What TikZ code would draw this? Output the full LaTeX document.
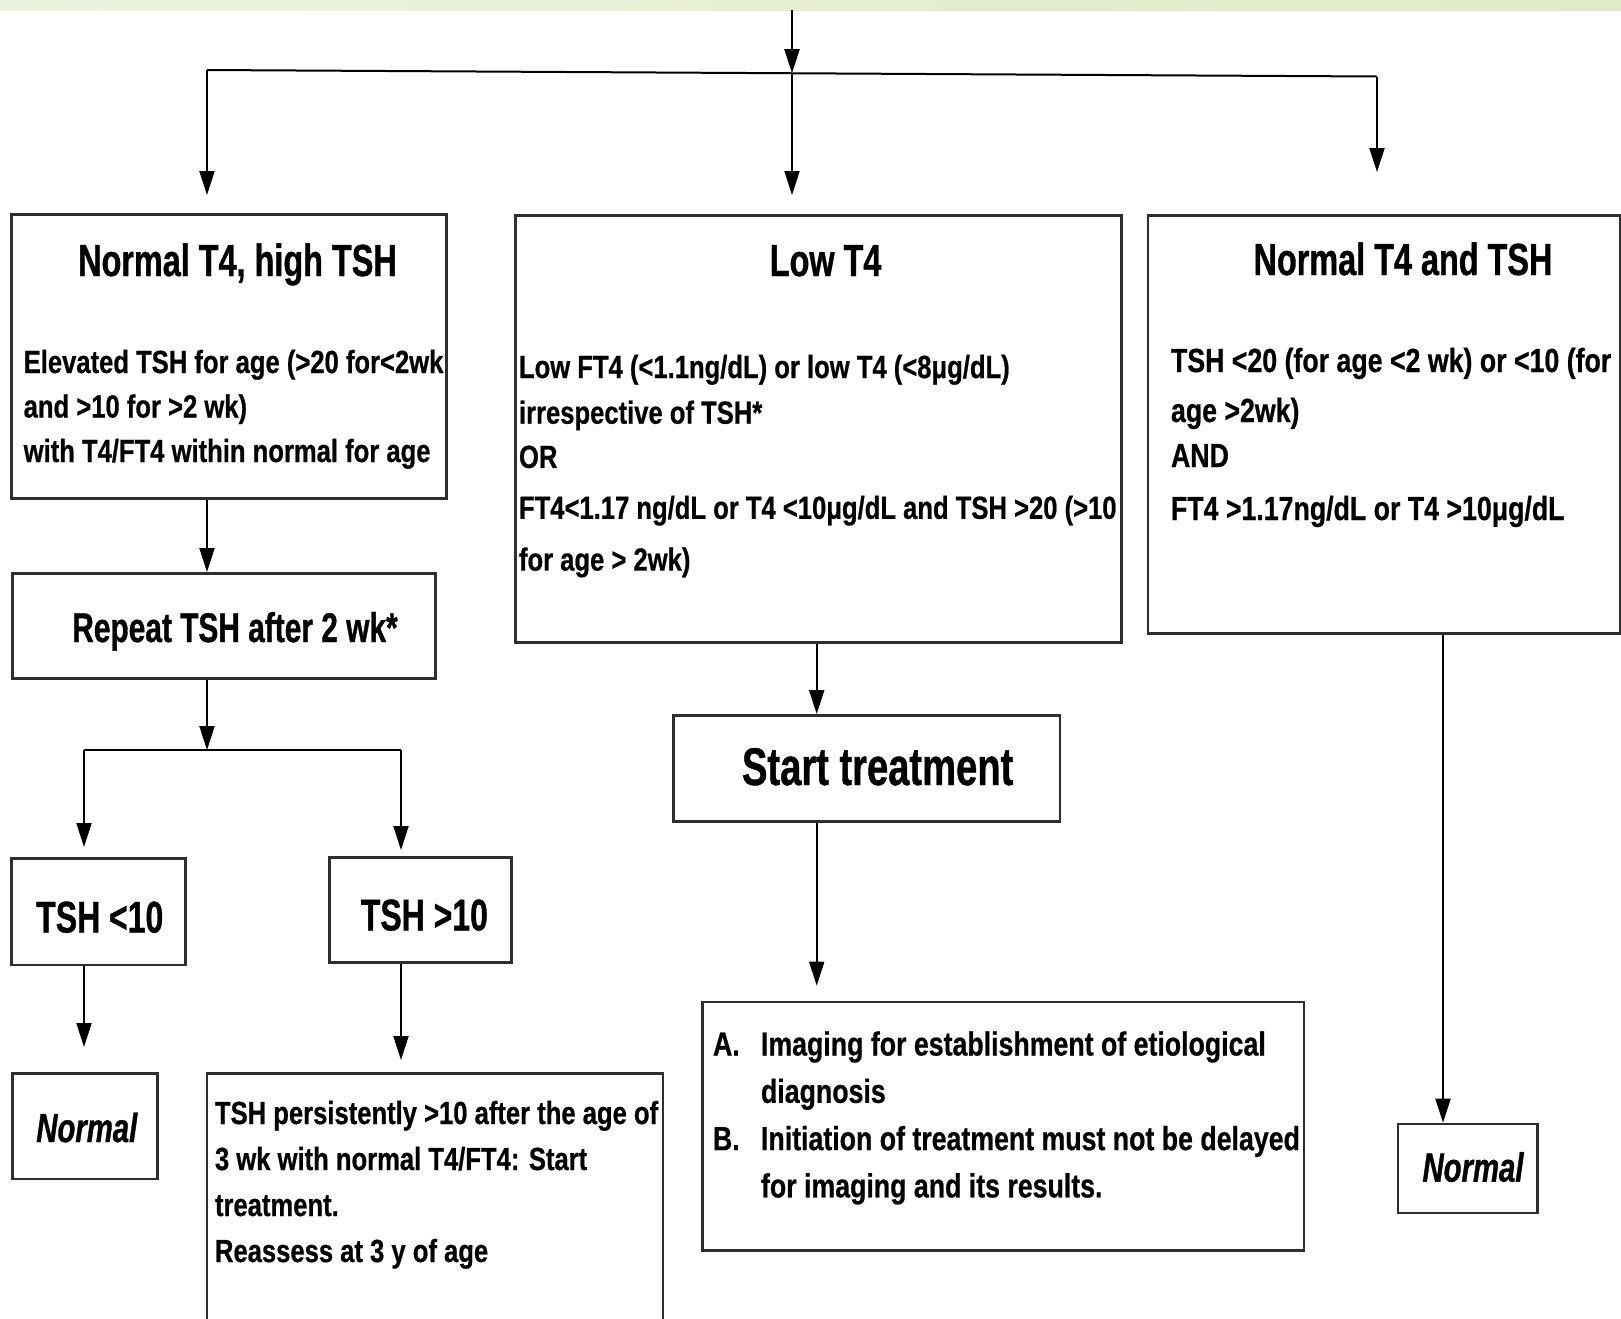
\documentclass[tikz,border=0pt]{standalone}
\usepackage{fontspec}
\usetikzlibrary{arrows.meta}
\newfontfamily\bodyfont[FakeStretch=0.80,FakeBold=0.6]{Liberation Sans}
\newfontfamily\headfont[FakeStretch=0.72,FakeBold=0.8]{Liberation Sans}
\newcommand\tstrut{\rule{0pt}{30pt}}
\definecolor{boxgray}{HTML}{2E2E2E}
\definecolor{bandL}{HTML}{EDF2DE}
\definecolor{bandR}{HTML}{E0EAC8}
\tikzset{
  box/.style={draw=boxgray,line width=2.6pt,anchor=north west,inner sep=0pt},
  head/.style={anchor=base,inner sep=0pt,font=\headfont\bfseries\fontsize{#1}{#1}\selectfont},
  head/.default=45,
  body/.style={anchor=north west,inner sep=0pt,align=left,font=\bodyfont\bfseries\fontsize{32}{#1}\selectfont},
  body/.default=44.5,
  bodyL/.style={body=#1,font=\bodyfont\bfseries\fontsize{33.4}{#1}\selectfont},
  bodyL/.default=44.5
}
\begin{document}
\begin{tikzpicture}[x=1pt,y=-1pt,>={Triangle[length=24pt,width=15pt]},line width=2pt]
\useasboundingbox (0,0) rectangle (1621,1318);
\fill[white] (0,0) rectangle (1621,1318);
\shade[left color=bandL,right color=bandR] (0,0) rectangle (1621,10);
% boxes
\node[box,minimum width=435pt,minimum height=284pt] (hiTSH) at (10.3,213) {};
\node[box,minimum width=606pt,minimum height=427pt] (lowT4) at (514,214) {};
\node[box,minimum width=472pt,minimum height=418pt] (normT4) at (1146.5,214) {};
\node[box,minimum width=422.6pt,minimum height=105pt] (repeat) at (11.4,572) {};
\node[box,minimum width=173.7pt,minimum height=106.5pt] (tshlo) at (10.3,857) {};
\node[box,minimum width=182pt,minimum height=105pt] (tshhi) at (328,856) {};
\node[box,minimum width=144.6pt,minimum height=105.5pt] (normA) at (11.4,1072) {};
\node[box,minimum width=456pt,minimum height=270pt] (persist) at (205.7,1072) {};
\node[box,minimum width=386.6pt,minimum height=106pt] (start) at (672,714) {};
\node[box,minimum width=601.6pt,minimum height=248.3pt] (imaging) at (701,1000.7) {};
\node[box,minimum width=139.3pt,minimum height=89pt] (normB) at (1396.7,1122.7) {};
% texts
\node[head] (t1) at (237.5,276) {Normal T4, high TSH};
\node[body] (x1) at (22.7,342) {\tstrut Elevated TSH for age (>20 for<2wk\\and >10 for >2 wk)\\with T4/FT4 within normal for age};
\node[head] (t2) at (825.6,276) {Low T4};
\node[body] (x2) at (518,347) {\tstrut Low FT4 (<1.1ng/dL) or low T4 (<8μg/dL)\\[1.2pt]irrespective of TSH*\\[-0.3pt]OR\\[6.4pt]FT4<1.17 ng/dL or T4 <10μg/dL and TSH >20 (>10\\[7.3pt]for age > 2wk)};
\node[head] (t3) at (1403,275) {Normal T4 and TSH};
\node[bodyL] (x3) at (1170,341) {\tstrut TSH <20 (for age <2 wk) or <10 (for\\[5.5pt]age >2wk)\\[0.5pt]AND\\[8.5pt]FT4 >1.17ng/dL or T4 >10μg/dL};
\node[head=41.5] (t4) at (235,642) {Repeat TSH after 2 wk*};
\node[head=44.4] (t5) at (99.8,932.5) {TSH <10};
\node[head=44.4] (t6) at (424.4,930.4) {TSH >10};
\node[head=40.7] (t7) at (86.8,1142) {\itshape Normal};
\node[body=46] (x4) at (214,1093) {\tstrut TSH persistently >10 after the age of\\3 wk with normal T4/FT4: Start\\treatment.\\Reassess at 3 y of age};
\node[head=53] (t8) at (877.7,785) {Start treatment};
\node[bodyL=47.3] (x5) at (712,1024.5) {\tstrut\makebox[48pt][l]{A.}Imaging for establishment of etiological\\\hspace*{48pt}diagnosis\\\makebox[48pt][l]{B.}Initiation of treatment must not be delayed\\\hspace*{48pt}for imaging and its results.};
\node[head=40.7] (t9) at (1473,1181.6) {\itshape Normal};
% connectors
\coordinate (top) at (792,10);
\coordinate (jl) at (207,70);
\coordinate (jm) at (792,73.2);
\coordinate (jr) at (1377,76.5);
\draw[->] (top) -- (jm);
\draw (jl) -- (jr);
\draw[->,shorten >=18pt] (jl) -- (jl |- hiTSH.north);
\draw[->,shorten >=19pt] (jm) -- (jm |- lowT4.north);
\draw[->,shorten >=42pt] (jr) -- (jr |- normT4.north);
\draw[->] (hiTSH.south -| jl) -- (repeat.north -| jl);
\coordinate (kl) at (84,750);
\coordinate (km) at (207,750);
\coordinate (kr) at (401,750);
\draw[->] (repeat.south -| km) -- (km);
\draw (kl) -- (kr);
\draw[->,shorten >=10pt] (kl) -- (kl |- tshlo.north);
\draw[->,shorten >=6pt] (kr) -- (kr |- tshhi.north);
\draw[->,shorten >=25pt] (tshlo.south -| kl) -- (normA.north -| kl);
\draw[->,shorten >=12pt] (tshhi.south -| kr) -- (persist.north -| kr);
\coordinate (cx) at (816.7,0);
\draw[->] (lowT4.south -| cx) -- (start.north -| cx);
\draw[->,shorten >=15pt] (start.south -| cx) -- (imaging.north -| cx);
\coordinate (rx) at (1443,0);
\draw[->] (normT4.south -| rx) -- (normB.north -| rx);
\end{tikzpicture}
\end{document}
